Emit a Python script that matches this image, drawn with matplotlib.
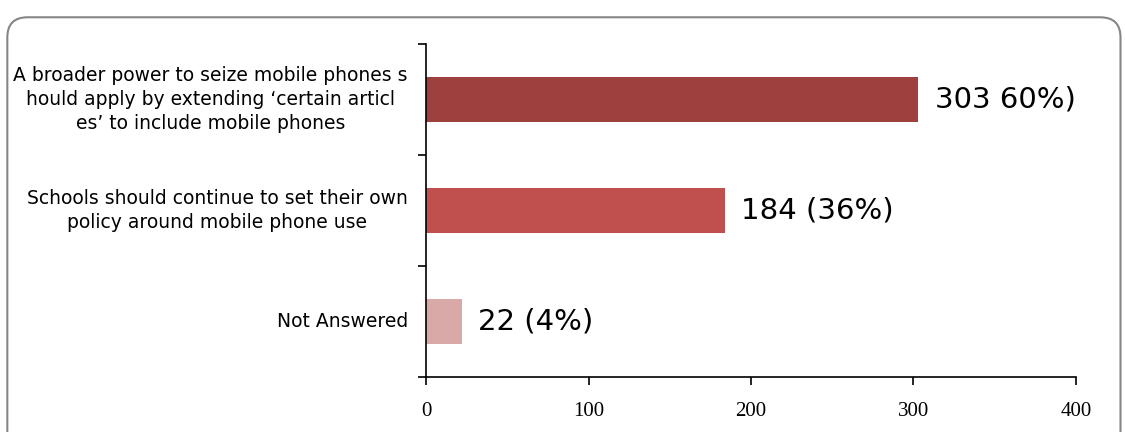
import matplotlib
matplotlib.use("Agg")
import matplotlib.pyplot as plt
from matplotlib.patches import FancyBboxPatch

categories = [
    "A broader power to seize mobile phones s\nhould apply by extending \u2018certain articl\nes\u2019 to include mobile phones",
    "Schools should continue to set their own\npolicy around mobile phone use",
    "Not Answered",
]
values = [303, 184, 22]
value_labels = ["303 60%)", "184 (36%)", "22 (4%)"]
colors = ["#9E413E", "#C0504D", "#D9A9A8"]
xticks = [0, 100, 200, 300, 400]

sans = "DejaVu Sans"
serif = "Liberation Serif"

fig = plt.figure(figsize=(11.25, 4.32), dpi=100)
ax = fig.add_axes([0.3787, 0.1273, 0.5777, 0.7707])

ypos = [2, 1, 0]
ax.barh(ypos, values, height=0.4, color=colors)
ax.set_xlim(0, 400)
ax.set_ylim(-0.5, 2.5)
ax.set_xticks(xticks)
ax.set_xticklabels([str(t) for t in xticks], fontfamily=serif, fontsize=15)
ax.set_yticks([-0.5, 0.5, 1.5, 2.5])
ax.set_yticklabels([])
ax.tick_params(axis="both", direction="out", length=6, width=1.2, color="black")
ax.tick_params(axis="x", pad=12)
for s in ["top", "right"]:
    ax.spines[s].set_visible(False)
for s in ["left", "bottom"]:
    ax.spines[s].set_linewidth(1.2)

for y, cat in zip(ypos, categories):
    ax.text(-0.028, (y + 0.5) / 3.0, cat, transform=ax.transAxes, ha="right", va="center",
            multialignment="center", fontsize=13.5, fontfamily=sans, color="#000000",
            linespacing=1.35)

for y, v, lab in zip(ypos, values, value_labels):
    ax.text(v + 10, y, lab, ha="left", va="center", fontsize=21, fontfamily=sans)

box = FancyBboxPatch((0.0065, -0.2), 0.9895, 1.16, boxstyle="round,pad=0,rounding_size=0.018",
                     transform=fig.transFigure, facecolor="none", edgecolor="#868686",
                     linewidth=1.5, mutation_aspect=1125 / 432, clip_on=False)
fig.patches.append(box)

fig.savefig("out.png", dpi=100)
